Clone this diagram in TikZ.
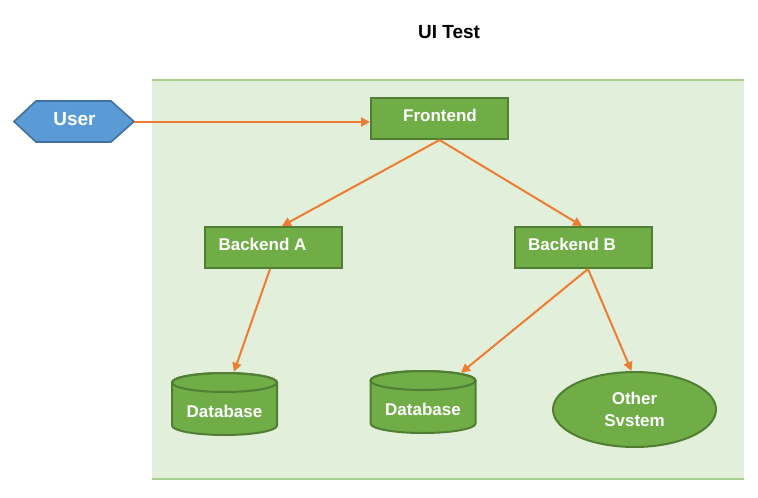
\documentclass[tikz,border=0pt]{standalone}
\usepackage{fontspec}
\setmainfont{Liberation Sans}
\usetikzlibrary{shapes.geometric,arrows.meta}
\definecolor{panelfill}{HTML}{E2EFDA}
\definecolor{panelline}{HTML}{A9D18E}
\definecolor{boxfill}{HTML}{70AD47}
\definecolor{boxline}{HTML}{507E32}
\definecolor{userfill}{HTML}{5B9BD5}
\definecolor{userline}{HTML}{41719C}
\definecolor{arrowc}{HTML}{ED7D31}
\begin{document}
\begin{tikzpicture}[x=1pt,y=-1pt,
  lbl/.style={font=\fontsize{17}{22}\selectfont\bfseries, text=white, inner sep=0pt},
  gbox/.style={draw=boxline, fill=boxfill, line width=2pt, minimum width=137pt, minimum height=41pt, inner sep=0pt},
  dbslot/.style={minimum width=105pt, minimum height=62pt, inner sep=0pt},
  dbbody/.style={draw=boxline, fill=boxfill, line width=2pt},
  ell/.style={lbl, ellipse, draw=boxline, fill=boxfill, line width=2pt, minimum width=163pt, minimum height=75pt, align=center},
  conn/.style={draw=arrowc, line width=2pt, -{Triangle[length=9pt,width=9pt]}}
]
\useasboundingbox (0,0) rectangle (758,498);
% panel
\fill[panelfill] (152,80) rectangle (744,479);
\draw[panelline, line width=1.5pt] (152,80) -- (744,80);
\draw[panelline, line width=1.5pt] (152,479) -- (744,479);
% title
\node[inner sep=0pt] (title) at (449,32.5) {\fontsize{19}{22}\selectfont\bfseries UI Test};
% user hexagon
\filldraw[fill=userfill, draw=userline, line width=1.6pt] (14,121.5) -- (36,101) -- (111,101) -- (134,121.5) -- (111,142) -- (36,142) -- cycle;
\coordinate (user) at (134,122);
\node[lbl, font=\fontsize{19}{22}\selectfont\bfseries] (usertext) at (74.5,119.5) {User};
% boxes
\node[gbox] (front) at (439.5,118.5) {};
\node[lbl] (fronttext) at (440,115.5) {Frontend};
\node[gbox] (ba) at (273,247.5) {};
\node[lbl] (batext) at (262.5,244.5) {Backend A};
\node[gbox] (bb) at (583,247.5) {};
\node[lbl] (bbtext) at (572,244.5) {Backend B};
% database 1
\path[dbbody] (172,382.5) -- (172,425.5) arc[start angle=180, end angle=0, x radius=52.5, y radius=9.5] -- (277,382.5) arc[start angle=0, end angle=-180, x radius=52.5, y radius=9.5] -- cycle;
\draw[boxline, line width=2pt] (224.5,382.5) ellipse[x radius=52.5, y radius=9.5];
\node[dbslot] (db1) at (224.5,404) {};
\node[lbl] (db1text) at (224.5,411) {Database};
% database 2
\path[dbbody] (370.5,380.5) -- (370.5,423.5) arc[start angle=180, end angle=0, x radius=52.5, y radius=9.5] -- (475.5,380.5) arc[start angle=0, end angle=-180, x radius=52.5, y radius=9.5] -- cycle;
\draw[boxline, line width=2pt] (423,380.5) ellipse[x radius=52.5, y radius=9.5];
\node[dbslot] (db2) at (423,402) {};
\node[lbl] (db2text) at (423,409) {Database};
% other system
\node[ell] (other) at (634.5,409.5) {Other\\Svstem};
% connectors
\draw[conn] (user) -- (front.west |- user);
\draw[conn] (front.south) -- ([xshift=9pt]ba.north);
\draw[conn] (front.south) -- ([xshift=-1pt]bb.north);
\draw[conn] ([xshift=-3pt]ba.south) -- ([xshift=9.5pt,yshift=1pt]db1.north);
\draw[conn] ([xshift=5pt]bb.south) -- ([xshift=38pt,yshift=-2pt]db2.north);
\draw[conn] ([xshift=5pt]bb.south) -- ([xshift=-3pt]other.north);
\end{tikzpicture}
\end{document}
